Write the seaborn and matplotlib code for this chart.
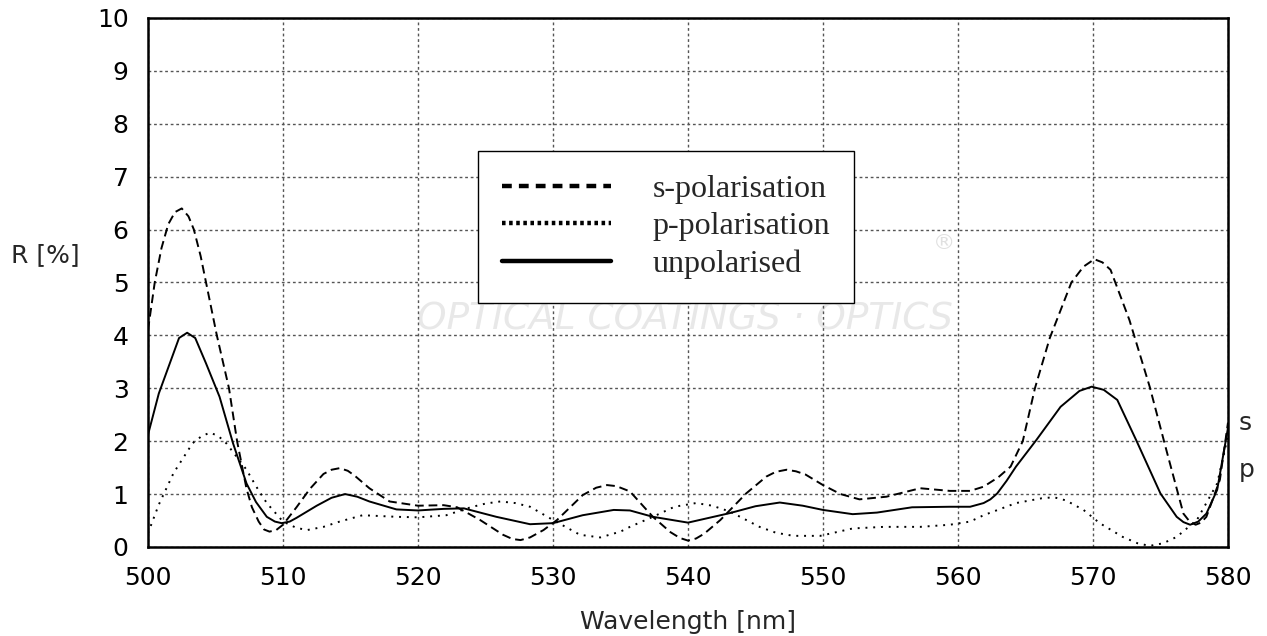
"""Reflectance of a thin-film coating, s / p / unpolarised, 500-580 nm."""

import matplotlib

matplotlib.use("Agg")
import matplotlib.pyplot as plt  # noqa: E402
import pandas as pd  # noqa: E402
import seaborn as sns  # noqa: E402
from matplotlib.lines import Line2D  # noqa: E402

# values
s_wl = [500.0, 500.5, 501.0, 501.5, 502.0, 502.5, 503.0, 503.4, 503.9, 504.3,
        505.1, 506.0, 506.6, 507.3, 507.7, 508.2, 508.6, 509.0, 509.5, 510.0,
        511.0, 512.0, 513.0, 513.6, 514.2, 514.8, 515.3, 516.4, 517.9, 520.0,
        521.9, 522.9, 524.6, 526.3, 527.0, 527.6, 528.3, 529.3, 530.3, 532.2,
        533.2, 534.0, 534.7, 535.7, 537.4, 538.7, 539.4, 540.0, 540.6, 541.2,
        542.4, 544.3, 545.8, 546.5, 547.3, 548.0, 548.7, 550.0, 551.3, 552.7,
        554.7, 557.2, 559.4, 560.9, 561.9, 563.0, 563.9, 564.8, 565.7, 566.8,
        568.4, 569.3, 570.1, 570.7, 571.3, 572.7, 574.2, 575.5, 576.7, 577.1,
        577.6, 578.0, 578.4, 579.4, 580.0]
s_r = [4.10, 5.00, 5.65, 6.10, 6.33, 6.40, 6.25, 6.00, 5.50, 5.00,
       4.00, 3.00, 2.00, 1.10, 0.75, 0.48, 0.33, 0.29, 0.32, 0.42,
       0.75, 1.10, 1.38, 1.46, 1.49, 1.44, 1.35, 1.11, 0.86, 0.78,
       0.79, 0.75, 0.51, 0.23, 0.15, 0.13, 0.18, 0.32, 0.51, 0.98,
       1.12, 1.17, 1.15, 1.05, 0.57, 0.28, 0.17, 0.12, 0.16, 0.25,
       0.51, 1.01, 1.33, 1.42, 1.46, 1.43, 1.37, 1.17, 1.00, 0.90,
       0.95, 1.11, 1.06, 1.06, 1.14, 1.32, 1.52, 2.00, 3.00, 3.95,
       5.00, 5.30, 5.44, 5.38, 5.24, 4.29, 3.03, 1.77, 0.63, 0.50,
       0.42, 0.46, 0.57, 1.27, 2.35]

p_wl = [500.0, 500.8, 501.9, 503.3, 504.0, 504.6, 505.2, 505.8, 507.3, 508.0,
        508.8, 510.0, 511.0, 511.8, 513.0, 514.2, 515.9, 518.4, 520.0, 522.1,
        523.9, 525.0, 526.1, 527.2, 528.3, 530.0, 532.0, 533.5, 535.0, 535.7,
        537.4, 539.0, 540.6, 541.8, 543.1, 545.3, 546.5, 547.8, 549.8, 552.2,
        554.5, 557.2, 559.4, 560.9, 561.9, 564.3, 566.2, 567.1, 568.0, 569.3,
        570.5, 572.2, 573.3, 574.2, 575.2, 576.2, 577.7, 579.2, 580.0]
p_r = [0.26, 0.80, 1.40, 1.96, 2.10, 2.16, 2.10, 1.96, 1.46, 1.15,
       0.83, 0.48, 0.36, 0.32, 0.38, 0.48, 0.60, 0.57, 0.56, 0.60,
       0.75, 0.82, 0.86, 0.83, 0.76, 0.51, 0.23, 0.18, 0.29, 0.38,
       0.57, 0.76, 0.83, 0.78, 0.67, 0.38, 0.27, 0.21, 0.21, 0.35,
       0.38, 0.38, 0.42, 0.48, 0.60, 0.83, 0.92, 0.94, 0.88, 0.70,
       0.45, 0.19, 0.07, 0.02, 0.07, 0.19, 0.51, 1.20, 2.10]

u_wl = [500.0, 500.8, 501.8, 502.3, 502.9, 503.5, 504.3, 505.3, 506.3, 507.3,
        508.0, 508.8, 509.4, 509.9, 510.5, 511.0, 512.5, 513.6, 514.6, 515.5,
        516.4, 518.4, 520.0, 521.9, 523.4, 525.8, 528.3, 530.0, 532.2, 534.5,
        535.7, 537.4, 540.0, 543.1, 545.0, 546.8, 548.5, 550.0, 552.2, 554.0,
        556.6, 559.4, 560.9, 561.9, 562.4, 562.9, 563.6, 564.3, 565.8, 567.6,
        569.0, 569.9, 570.8, 571.8, 573.2, 575.0, 576.2, 576.7, 577.2, 577.8,
        578.4, 579.2, 580.0]
u_r = [2.12, 2.90, 3.60, 3.95, 4.05, 3.95, 3.47, 2.84, 1.96, 1.20,
       0.85, 0.57, 0.48, 0.45, 0.48, 0.55, 0.78, 0.93, 1.00, 0.95,
       0.86, 0.71, 0.69, 0.72, 0.73, 0.57, 0.43, 0.45, 0.60, 0.70,
       0.69, 0.57, 0.46, 0.64, 0.77, 0.84, 0.78, 0.70, 0.62, 0.65,
       0.75, 0.76, 0.76, 0.83, 0.90, 1.01, 1.25, 1.52, 2.02, 2.65,
       2.95, 3.03, 2.97, 2.78, 2.02, 1.01, 0.57, 0.47, 0.42, 0.48,
       0.63, 1.08, 2.25]

labels = ["s-polarisation", "p-polarisation", "unpolarised"]

sns.set_theme(style="white")
plt.rcParams["font.family"] = ["DejaVu Sans"]

df = pd.concat([
    pd.DataFrame({"wl": s_wl, "R": s_r, "pol": labels[0]}),
    pd.DataFrame({"wl": p_wl, "R": p_r, "pol": labels[1]}),
    pd.DataFrame({"wl": u_wl, "R": u_r, "pol": labels[2]}),
])

dashes = {labels[0]: (4.5, 2.5), labels[1]: (1, 3), labels[2]: ""}

fig = plt.figure(figsize=(12.67, 6.36), dpi=100)
ax = fig.add_axes([0.1168, 0.140, 0.8524, 0.8317])

sns.lineplot(data=df, x="wl", y="R", style="pol", dashes=dashes,
             color="black", linewidth=1.4, estimator=None, sort=True,
             legend=False, ax=ax)

ax.set_xlim(500, 580)
ax.set_ylim(0, 10)
ax.set_xticks(range(500, 581, 10))
ax.set_yticks(range(0, 11))
ax.grid(True, linestyle=(0, (2, 2)), color="#555555", linewidth=1)
for sp in ax.spines.values():
    sp.set_color("black")
    sp.set_linewidth(1.8)
ax.tick_params(axis="both", direction="out", length=8, width=1.8,
               labelsize=18, colors="black", pad=6)
ax.set_xlabel("Wavelength [nm]", fontsize=18, labelpad=14)
ax.set_ylabel("R [%]", fontsize=18, rotation=0, va="center")
ax.yaxis.set_label_coords(-0.095, 0.552)

# faint watermark
ax.text(0.497, 0.43, "OPTICAL COATINGS · OPTICS", transform=ax.transAxes,
        fontsize=27, style="italic", color="#e8e8e8", ha="center",
        va="center", zorder=0)
ax.text(0.737, 0.575, "®", transform=ax.transAxes, fontsize=16,
        color="#e0e0e0", ha="center", va="center", zorder=0)

# curve end labels
ax.text(580.8, 2.34, "s", fontsize=18, ha="left", va="center", clip_on=False)
ax.text(580.8, 1.45, "p", fontsize=18, ha="left", va="center", clip_on=False)

handles = [
    Line2D([], [], color="black", lw=3.2, linestyle=(0, (2.2, 1.6))),
    Line2D([], [], color="black", lw=3.2, linestyle=(0, (0.8, 0.8))),
    Line2D([], [], color="black", lw=3.2),
]
leg = ax.legend(handles, labels, loc="upper left",
                bbox_to_anchor=(0.306, 0.749), borderaxespad=0,
                prop={"family": "Liberation Serif", "size": 23},
                handlelength=3.4, handletextpad=1.3, borderpad=0.75,
                labelspacing=0.25, fancybox=False, framealpha=1,
                edgecolor="black")
leg.get_frame().set_linewidth(1.0)

fig.savefig("out.png", dpi=100)
plt.close(fig)
